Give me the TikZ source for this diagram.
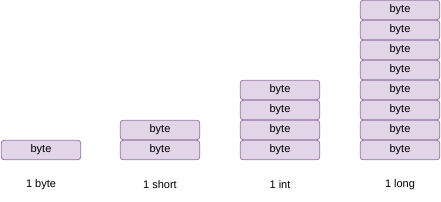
\documentclass[tikz,border=0pt]{standalone}
\usepackage{fontspec}
\setmainfont{Liberation Sans}
\definecolor{boxfill}{HTML}{E1D5E7}
\definecolor{boxline}{HTML}{9673A6}
\begin{document}
\begin{tikzpicture}[x=1pt,y=-1pt,
  bytebox/.style={draw=boxline, fill=boxfill, line width=0.8pt, rounded corners=3pt,
    minimum width=79.5pt, minimum height=19.5pt, inner sep=0pt, font=\fontsize{11}{13}\selectfont},
  caption/.style={inner sep=0pt, font=\fontsize{11}{13}\selectfont}]
\useasboundingbox (0,0) rectangle (441,201);
% 1 byte
\node[bytebox] (b1) at (41,150) {byte};
\node[caption] (l1) at (41,185) {1 byte};
% 1 short
\foreach \i in {0,1} { \node[bytebox] (s\i) at (160,150-20*\i) {byte}; }
\node[caption] (l2) at (160,185) {1 short};
% 1 int
\foreach \i in {0,...,3} { \node[bytebox] (n\i) at (280,150-20*\i) {byte}; }
\node[caption] (l3) at (280,185) {1 int};
% 1 long
\foreach \i in {0,...,7} { \node[bytebox] (g\i) at (400,150-20*\i) {byte}; }
\node[caption] (l4) at (400,185) {1 long};
\end{tikzpicture}
\end{document}
